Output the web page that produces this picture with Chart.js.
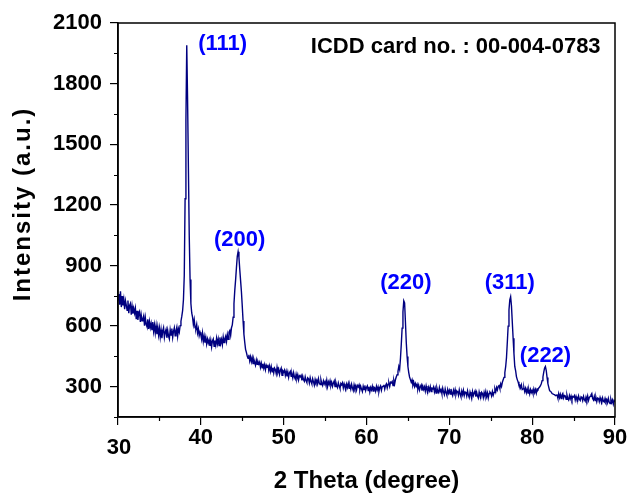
<!DOCTYPE html>
<html>
<head>
<meta charset="utf-8">
<script src="https://cdn.jsdelivr.net/npm/chart.js@4"></script>
<style>
  body { margin: 0; background: #fff; }
</style>
</head>
<body>
<canvas id="xrdChart" width="630" height="493"></canvas>
<script>
// scan: 30 to 90 deg, 0.1 deg step
const scanStart = 30;
const scanStep = 0.1;

// intensity, one row per degree (x.0 ... x.9)
const intensity = [
    730, 758, 706, 772, 694, 748, 702, 732, 684, 726, // 30
    704, 678, 726, 664, 702, 712, 656, 698, 662, 688, // 31
    664, 688, 634, 676, 630, 662, 672, 620, 656, 626, // 32
    634, 650, 602, 642, 608, 596, 634, 586, 622, 592, // 33
    614, 580, 620, 574, 606, 566, 602, 560, 596, 556, // 34
    590, 546, 582, 540, 576, 592, 544, 570, 584, 542, // 35
    578, 550, 536, 582, 556, 588, 544, 574, 592, 552, // 36
    576, 594, 550, 586, 570, 602, 624, 648, 676, 730, // 37
    850, 1230, 1620, 1990, 1720, 1380, 1050, 830, 712, 665, // 38
    644, 608, 632, 592, 588, 608, 566, 586, 552, 570, // 39
    556, 534, 566, 524, 550, 518, 544, 511, 536, 516, // 40
    532, 502, 530, 496, 526, 536, 500, 528, 506, 540, // 41
    512, 536, 504, 544, 514, 534, 508, 546, 518, 538, // 42
    550, 524, 558, 534, 570, 578, 554, 592, 606, 644, // 43
    712, 778, 830, 890, 945, 968, 940, 880, 825, 770, // 44
    700, 625, 560, 520, 485, 470, 452, 440, 458, 428, // 45
    448, 424, 444, 414, 436, 421, 406, 432, 411, 424, // 46
    412, 422, 396, 416, 394, 414, 391, 409, 384, 406, // 47
    396, 409, 381, 402, 376, 399, 374, 394, 368, 392, // 48
    384, 364, 396, 371, 386, 361, 382, 392, 356, 379, // 49
    372, 382, 356, 376, 351, 372, 346, 369, 376, 351, // 50
    364, 344, 369, 348, 338, 362, 341, 359, 334, 354, // 51
    349, 356, 331, 352, 334, 326, 349, 331, 321, 344, // 52
    339, 318, 344, 326, 314, 339, 324, 308, 336, 321, // 53
    332, 314, 339, 318, 311, 334, 316, 306, 329, 314, // 54
    326, 308, 332, 301, 324, 311, 329, 306, 322, 302, // 55
    319, 329, 301, 322, 306, 296, 319, 304, 291, 316, // 56
    309, 319, 294, 314, 298, 286, 312, 296, 316, 292, // 57
    306, 288, 312, 294, 281, 309, 291, 304, 284, 306, // 58
    299, 309, 284, 302, 288, 276, 302, 286, 306, 281, // 59
    296, 304, 281, 300, 274, 296, 284, 302, 278, 298, // 60
    294, 278, 302, 284, 299, 276, 296, 304, 282, 300, // 61
    302, 309, 288, 306, 314, 294, 312, 319, 301, 322, // 62
    319, 326, 306, 332, 314, 336, 349, 359, 376, 400, // 63
    385, 440, 510, 590, 670, 725, 715, 620, 520, 450, // 64
    400, 370, 348, 335, 322, 334, 308, 322, 301, 316, // 65
    302, 312, 288, 306, 284, 300, 309, 281, 302, 286, // 66
    299, 278, 304, 284, 274, 296, 281, 300, 276, 292, // 67
    289, 299, 274, 292, 268, 294, 278, 271, 296, 276, // 68
    286, 266, 292, 274, 261, 289, 271, 258, 286, 268, // 69
    282, 264, 289, 268, 256, 282, 266, 286, 261, 279, // 70
    276, 258, 284, 264, 251, 279, 261, 282, 256, 274, // 71
    272, 254, 279, 258, 246, 274, 258, 241, 276, 256, // 72
    269, 279, 251, 272, 254, 244, 274, 256, 248, 272, // 73
    266, 246, 272, 254, 276, 251, 269, 244, 266, 274, // 74
    269, 254, 276, 258, 272, 289, 274, 296, 284, 302, // 75
    306, 291, 314, 301, 322, 334, 346, 369, 399, 444, // 76
    520, 600, 680, 730, 745, 700, 620, 540, 465, 400, // 77
    380, 350, 335, 324, 308, 309, 294, 309, 286, 289, // 78
    296, 276, 292, 271, 289, 268, 284, 264, 286, 271, // 79
    282, 266, 289, 271, 286, 268, 289, 286, 294, 298, // 80
    305, 315, 330, 348, 372, 392, 400, 380, 345, 315, // 81
    298, 281, 276, 274, 266, 266, 262, 261, 256, 258, // 82
    259, 244, 266, 246, 262, 241, 259, 266, 244, 256, // 83
    254, 238, 259, 241, 234, 256, 240, 254, 236, 252, // 84
    249, 256, 234, 252, 236, 231, 254, 238, 232, 250, // 85
    246, 231, 252, 236, 228, 249, 234, 254, 232, 246, // 86
    252, 259, 266, 241, 234, 252, 231, 246, 226, 244, // 87
    242, 226, 246, 231, 221, 244, 228, 224, 242, 226, // 88
    236, 221, 242, 224, 216, 238, 222, 234, 214, 232, // 89
    226                                               // 90
];

const xTicks = [30, 40, 50, 60, 70, 80, 90];
const xMinor = [35, 45, 55, 65, 75, 85];
const yTicks = [300, 600, 900, 1200, 1500, 1800, 2100];
const yMinor = [150, 450, 750, 1050, 1350, 1650, 1950];

const peakNames = ['(111)', '(200)', '(220)', '(311)', '(222)'];
// label centres in data units (2theta, intensity)
const peakLabelX = [42.64, 44.69, 64.76, 77.29, 81.61];
const peakLabelY = [1996, 1028, 813, 813, 454];

const cardText = 'ICDD card no. : 00-004-0783';

const points = intensity.map((v, i) => ({ x: scanStart + i * scanStep, y: v }));

const FONT = '"Liberation Sans", Arial, sans-serif';

const decor = {
    id: 'decor',
    afterDraw(chart) {
        const { ctx, chartArea: a, scales: { x, y } } = chart;
        ctx.save();
        // frame
        ctx.strokeStyle = '#000';
        ctx.lineWidth = 1.5;
        ctx.strokeRect(a.left, a.top, a.right - a.left, a.bottom - a.top);
        // minor ticks
        ctx.lineWidth = 1.2;
        ctx.beginPath();
        xMinor.forEach(v => {
            const px = Math.round(x.getPixelForValue(v)) + 0.5;
            ctx.moveTo(px, a.bottom);
            ctx.lineTo(px, a.bottom + 4);
        });
        yMinor.forEach(v => {
            const py = Math.round(y.getPixelForValue(v)) + 0.5;
            ctx.moveTo(a.left, py);
            ctx.lineTo(a.left - 4, py);
        });
        ctx.stroke();

        // first x label sits lower than the others
        ctx.fillStyle = '#000';
        ctx.font = 'bold 22px ' + FONT;
        ctx.textAlign = 'center';
        ctx.textBaseline = 'middle';
        ctx.fillText('30', x.getPixelForValue(30) + 1, a.bottom + 31);

        // axis titles
        ctx.font = 'bold 24px ' + FONT;
        ctx.fillText('2 Theta (degree)', (a.left + a.right) / 2, 481);
        ctx.save();
        ctx.translate(23, 204);
        ctx.rotate(-Math.PI / 2);
        ctx.letterSpacing = '2px';
        ctx.fillText('Intensity (a.u.)', 0, 0);
        ctx.restore();

        // card number
        ctx.font = 'bold 22px ' + FONT;
        ctx.fillText(cardText, x.getPixelForValue(70.77), y.getPixelForValue(1984));

        // peak labels
        ctx.fillStyle = '#0000ff';
        ctx.font = 'bold 22px ' + FONT;
        peakNames.forEach((t, i) => {
            ctx.fillText(t, x.getPixelForValue(peakLabelX[i]), y.getPixelForValue(peakLabelY[i]));
        });
        ctx.restore();
    }
};

new Chart(document.getElementById('xrdChart'), {
    type: 'line',
    data: {
        datasets: [{
            label: 'XRD',
            data: points,
            borderColor: '#000080',
            borderWidth: 1.4,
            pointRadius: 0,
            tension: 0,
            fill: false
        }]
    },
    options: {
        responsive: false,
        animation: false,
        layout: { padding: { top: 23, right: 15, left: 0, bottom: 0 } },
        plugins: { legend: { display: false }, tooltip: { enabled: false } },
        scales: {
            x: {
                type: 'linear',
                min: 30,
                max: 90,
                afterBuildTicks: s => { s.ticks = xTicks.map(v => ({ value: v })); },
                afterFit: s => { s.height = 76; },
                grid: { drawOnChartArea: false, tickLength: 8, color: '#000', lineWidth: 1.2 },
                border: { color: '#000', width: 1.5 },
                ticks: {
                    color: '#000',
                    font: { family: FONT, size: 22, weight: 'bold' },
                    padding: 0,
                    maxRotation: 0,
                    callback: v => (v === 30 ? '' : String(v))
                }
            },
            y: {
                min: 150,
                max: 2100,
                afterBuildTicks: s => { s.ticks = yTicks.map(v => ({ value: v })); },
                afterFit: s => { s.width = 118; },
                grid: { drawOnChartArea: false, tickLength: 8, color: '#000', lineWidth: 1.2 },
                border: { color: '#000', width: 1.5 },
                ticks: {
                    color: '#000',
                    font: { family: FONT, size: 22, weight: 'bold' },
                    padding: 8,
                    callback: v => String(v)
                }
            }
        }
    },
    plugins: [decor]
});
</script>
</body>
</html>
